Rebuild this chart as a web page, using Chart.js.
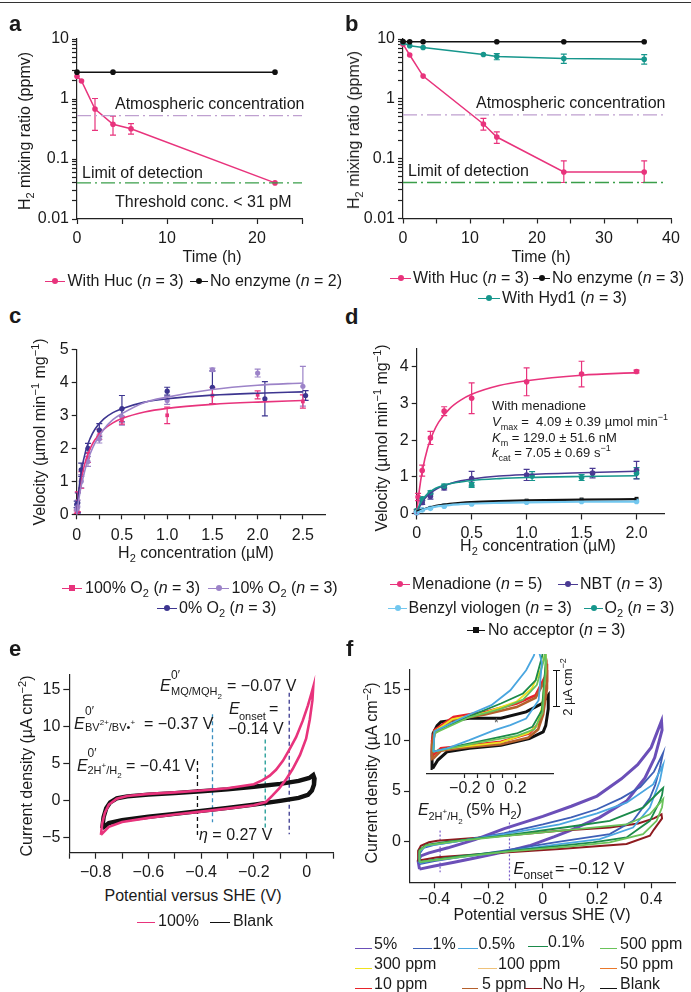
<!DOCTYPE html>
<html>
<head>
<meta charset="utf-8">
<script src="https://cdn.jsdelivr.net/npm/chart.js@4.4.1/dist/chart.umd.min.js"></script>
<style>
body { margin: 0; background: #fff; }
#page { position: relative; width: 691px; height: 992px; overflow: hidden; font-family: 'Liberation Sans', Arial, sans-serif; color: #1a1a1a; font-size: 16px; }
canvas { position: absolute; }
.t { position: absolute; white-space: nowrap; line-height: 16px; }
.L { position: absolute; font-weight: bold; font-size: 22px; line-height: 22px; }
sub { font-size: 11px; vertical-align: -4px; line-height: 0; }
sup { font-size: 11px; vertical-align: 6px; line-height: 0; }
.s11 sub, .s11 sup { font-size: 8px; }
.mk { position: absolute; height: 0; }
.mk i { position: absolute; left: 50%; width: 6px; height: 6px; margin-left: -3px; top: -3.6px; border-radius: 50%; }
.mk.sq i { border-radius: 0; }
</style>
</head>
<body>
<div id="page">
  <div style="position:absolute;left:0;top:2px;width:691px;height:1px;background:#333"></div>
  <canvas id="ca"></canvas>
  <canvas id="cb"></canvas>
  <canvas id="cc"></canvas>
  <canvas id="cd"></canvas>
  <canvas id="ce"></canvas>
  <canvas id="cf"></canvas>
  <canvas id="cfi"></canvas>
  <div class="L" style="left:9px;top:13px">a</div>
  <div class="L" style="left:345px;top:13px">b</div>
  <div class="L" style="left:9px;top:305px">c</div>
  <div class="L" style="left:345px;top:306px">d</div>
  <div class="L" style="left:9px;top:638px">e</div>
  <div class="L" style="left:346px;top:638px">f</div>
</div>
<script>
// ---- colours ----
const PINK = '#e8337c', TEAL = '#16968c', LAV = '#9c83c8', INDIGO = '#3d3590';
const NBTC = '#4a3a93', BVC = '#72c7ef', ATM = '#bfa0d0', LODC = '#3a9e4a';
const C5 = '#6b4fb8', C1 = '#3e5fb6', C05 = '#4aa6e0', C01 = '#1b8a4a', C500 = '#6ac35a';
const C300 = '#efe21e', C100 = '#efc27a', C50 = '#e9782b', C10 = '#e8232b', C5P = '#b5602c', CNO = '#8e1b1f';

// ---- panel a data ----
const aHucTime = [0, 0.5, 2, 4, 6, 22];
const aHuc = [2.4, 2.0, 0.68, 0.38, 0.32, 0.04];
const aHucLo = [null, null, 0.3, 0.25, 0.26, null];
const aHucHi = [null, null, 1.02, 0.52, 0.39, null];
const aNoTime = [0, 4, 22];
const aNo = [2.8, 2.8, 2.8];
const aAtmos = 0.53, aLod = 0.04, aSpan = [0, 25];

// ---- panel b data ----
const bHucTime = [0, 1, 3, 12, 14, 24, 36];
const bHuc = [8.2, 5.4, 2.4, 0.38, 0.23, 0.06, 0.06];
const bHucLo = [null, null, null, 0.3, 0.18, 0.04, 0.04];
const bHucHi = [null, null, null, 0.47, 0.28, 0.092, 0.092];
const bHydTime = [0, 1, 3, 12, 14, 24, 36];
const bHyd = [8.7, 7.7, 7.2, 5.5, 5.1, 4.7, 4.6];
const bHydLo = [null, null, null, null, 4.5, 3.9, 3.8];
const bHydHi = [null, null, null, null, 5.7, 5.6, 5.5];
const bNoTime = [0, 1, 3, 14, 24, 36];
const bNo = [9.1, 9.0, 9.0, 9.0, 9.0, 9.0];
const bAtmos = 0.54, bLod = 0.04, bSpan = [0, 39];

// ---- panel c data ----
const cConc100 = [0, 0.0125, 0.05, 0.125, 0.25, 0.5, 1.0, 1.5, 2.0, 2.5];
const cV100 = [0.08, 0.38, 1.04, 1.72, 2.42, 2.85, 3.0, 3.6, 3.62, 3.42];
const cE100 = [0.05, 0.3, 0.25, 0.15, 0.15, 0.12, 0.25, 0.25, 0.12, 0.2];
const cConc10 = [0, 0.0125, 0.05, 0.125, 0.25, 0.5, 1.0, 1.5, 2.0, 2.5];
const cV10 = [0.15, 0.23, 1.0, 1.6, 2.28, 2.95, 3.45, 4.38, 4.28, 3.88];
const cE10 = [0.05, 0.2, 0.2, 0.15, 0.12, 0.25, 0.12, 0.05, 0.12, 0.6];
const cConc0 = [0, 0.0125, 0.05, 0.125, 0.25, 0.5, 1.0, 1.5, 2.08, 2.53];
const cV0 = [0.3, 0.35, 1.35, 2.0, 2.55, 3.2, 3.73, 3.85, 3.5, 3.6];
const cE0 = [0.1, 0.3, 0.2, 0.15, 0.2, 0.4, 0.12, 0.5, 0.52, 0.15];
const cFitX = [0, 0.025, 0.05, 0.1, 0.15, 0.2, 0.3, 0.4, 0.5, 0.75, 1.0, 1.5, 2.0, 2.5];
const cFit100 = [0, 0.62, 1.06, 1.64, 2.0, 2.25, 2.57, 2.77, 2.9, 3.1, 3.21, 3.33, 3.4, 3.45];
const cFit10 = [0, 0.48, 0.86, 1.43, 1.84, 2.15, 2.58, 2.87, 3.05, 3.39, 3.55, 3.78, 3.91, 3.98];
const cFit0 = [0, 0.77, 1.28, 1.93, 2.31, 2.57, 2.89, 3.08, 3.2, 3.4, 3.5, 3.61, 3.67, 3.71];

// ---- panel d data ----
const dConcMen = [0, 0.0125, 0.05, 0.125, 0.25, 0.5, 1.0, 1.5, 2.0];
const dMen = [0.05, 0.45, 1.17, 2.06, 2.79, 3.14, 3.59, 3.8, 3.87];
const dMenE = [0.05, 0.1, 0.15, 0.18, 0.12, 0.42, 0.38, 0.35, 0.04];
const dConcNbt = [0, 0.05, 0.125, 0.25, 0.5, 1.0, 1.6, 2.0];
const dNbt = [0.02, 0.3, 0.47, 0.7, 0.95, 1.05, 1.1, 1.18];
const dNbtE = [0.02, 0.05, 0.08, 0.06, 0.2, 0.15, 0.13, 0.24];
const dConcO2 = [0, 0.05, 0.125, 0.25, 0.5, 1.05, 1.5, 2.0];
const dO2 = [0.08, 0.4, 0.57, 0.75, 0.78, 1.02, 0.98, 1.1];
const dO2E = [0.03, 0.05, 0.05, 0.05, 0.07, 0.12, 0.08, 0.15];
const dConcBv = [0, 0.05, 0.125, 0.25, 0.5, 1.0, 1.5, 2.0];
const dBv = [0.03, 0.1, 0.14, 0.2, 0.26, 0.31, 0.33, 0.33];
const dConcNo = [0, 0.05, 0.125, 0.25, 0.5, 1.0, 1.5, 2.0];
const dNo = [0.05, 0.1, 0.15, 0.21, 0.28, 0.35, 0.38, 0.4];
const dFitX = [0, 0.025, 0.05, 0.1, 0.15, 0.2, 0.3, 0.4, 0.5, 0.75, 1.0, 1.5, 2.0];
const dFitMen = [0, 0.66, 1.14, 1.79, 2.2, 2.49, 2.86, 3.09, 3.25, 3.49, 3.62, 3.77, 3.84];
const dFitNbt = [0, 0.17, 0.31, 0.49, 0.61, 0.7, 0.81, 0.89, 0.94, 1.02, 1.06, 1.11, 1.15];
const dFitO2 = [0.04, 0.22, 0.36, 0.54, 0.65, 0.72, 0.81, 0.86, 0.9, 0.95, 0.98, 1.01, 1.03];
const dFitBv = [0.02, 0.05, 0.09, 0.14, 0.175, 0.2, 0.23, 0.255, 0.27, 0.29, 0.305, 0.32, 0.325];
const dFitNo = [0.05, 0.08, 0.1, 0.15, 0.19, 0.22, 0.26, 0.29, 0.31, 0.34, 0.36, 0.38, 0.39];

// ---- panel e data (potential V, current µA cm-2) ----
const eBlank = [[-0.775,-3.7],[-0.77,-2.2],[-0.76,-1.0],[-0.745,-0.2],[-0.72,0.35],[-0.68,0.6],[-0.6,0.85],[-0.5,1.05],[-0.4,1.3],[-0.3,1.55],[-0.2,1.9],[-0.1,2.3],[-0.03,2.7],[0.01,3.1],[0.025,3.5],[0.03,3.0],[0.028,2.2],[0.02,1.4],[0.005,0.8],[-0.03,0.4],[-0.1,0.0],[-0.2,-0.5],[-0.3,-0.95],[-0.4,-1.35],[-0.5,-1.75],[-0.6,-2.15],[-0.7,-2.6],[-0.75,-3.0],[-0.775,-3.7]];
const e100 = [[-0.78,-4.6],[-0.775,-3.0],[-0.765,-1.6],[-0.75,-0.5],[-0.72,0.3],[-0.68,0.65],[-0.6,0.95],[-0.5,1.15],[-0.4,1.4],[-0.3,1.7],[-0.2,2.25],[-0.167,2.8],[-0.14,3.4],[-0.116,4.2],[-0.09,5.4],[-0.066,6.9],[-0.04,8.6],[-0.015,10.8],[0.005,12.9],[0.018,14.5],[0.025,15.4],[0.022,13.6],[0.012,11.0],[-0.002,8.4],[-0.025,6.2],[-0.053,4.3],[-0.08,2.8],[-0.104,1.7],[-0.13,0.7],[-0.154,-0.15],[-0.2,-0.6],[-0.3,-1.05],[-0.4,-1.45],[-0.5,-1.85],[-0.6,-2.3],[-0.7,-2.85],[-0.75,-3.5],[-0.78,-4.6]];
const eMarkX = [-0.414, -0.357, -0.157, -0.066];
const eMarkY = [[5.4, -4.7], [11.7, -2.9], [8.3, -3.6], [14.6, -4.5]];
const eMarkC = ['#111', '#3b8fc0', '#1c9a94', '#3b3a8f'];

// ---- panel f data ----
const f5 = [[-0.455,-2.7],[-0.46,-1.9],[-0.45,-1.4],[-0.42,-1.1],[-0.35,-0.6],[-0.25,0.2],[-0.142,1.3],[0,2.5],[0.105,3.5],[0.2,4.5],[0.29,6.2],[0.35,7.6],[0.4,9.3],[0.438,11.9],[0.44,11.0],[0.429,9.9],[0.413,8.3],[0.377,6.3],[0.309,4.0],[0.21,2.4],[0.1,1.1],[0.043,0.5],[-0.05,-0.4],[-0.142,-1.0],[-0.25,-1.6],[-0.327,-2.03],[-0.4,-2.4],[-0.455,-2.7]];
const f1 = [[-0.455,-2.2],[-0.455,-1.2],[-0.44,-0.6],[-0.4,-0.3],[-0.3,0.1],[-0.142,0.85],[0,1.7],[0.105,2.4],[0.2,3.2],[0.29,4.3],[0.36,5.4],[0.41,6.9],[0.444,8.75],[0.432,7.3],[0.415,5.6],[0.395,4.3],[0.333,2.06],[0.247,0.75],[0.062,0.0],[-0.15,-0.9],[-0.3,-1.5],[-0.4,-1.9],[-0.455,-2.2]];
const f05 = [[-0.455,-2.1],[-0.455,-1.0],[-0.43,-0.4],[-0.35,-0.1],[-0.142,0.75],[0.062,1.7],[0.2,2.8],[0.309,3.85],[0.407,5.65],[0.444,7.6],[0.432,6.0],[0.395,3.36],[0.333,1.4],[0.21,0.26],[0.062,-0.23],[-0.2,-1.2],[-0.4,-1.8],[-0.455,-2.1]];
const f01 = [[-0.455,-2.0],[-0.455,-0.8],[-0.43,-0.3],[-0.35,0.0],[-0.142,0.6],[0.105,1.5],[0.247,2.06],[0.37,3.36],[0.432,5.0],[0.444,5.3],[0.44,4.6],[0.432,4.0],[0.395,2.06],[0.309,0.42],[0.186,-0.07],[0.062,-0.4],[-0.142,-0.95],[-0.3,-1.4],[-0.455,-2.0]];
const f500 = [[-0.455,-2.0],[-0.455,-0.9],[-0.43,-0.35],[-0.3,0.1],[-0.142,0.55],[0.105,1.2],[0.309,1.7],[0.395,2.7],[0.438,4.0],[0.444,4.2],[0.44,3.4],[0.42,2.06],[0.37,0.75],[0.247,-0.07],[0.105,-0.45],[-0.142,-1.0],[-0.3,-1.5],[-0.455,-2.0]];
const fNoH2 = [[-0.457,-1.86],[-0.46,-0.9],[-0.45,-0.4],[-0.42,-0.05],[-0.389,0.1],[-0.142,0.59],[0.062,1.08],[0.247,1.4],[0.352,1.8],[0.41,2.3],[0.438,2.7],[0.44,2.3],[0.432,2.0],[0.41,1.2],[0.395,0.59],[0.309,-0.23],[0.062,-0.72],[-0.142,-1.05],[-0.389,-1.54],[-0.457,-1.86]];
const fMarkX = [-0.379, -0.123];
const fMarkY = [[1.1, -3.0], [1.9, -3.8]];

// inset (offset current, µA cm-2)
const iBlank = [[-0.455,0.3],[-0.46,1.2],[-0.452,2.18],[-0.42,2.6],[-0.39,2.8],[-0.165,3.0],[0.085,3.0],[0.285,3.34],[0.41,3.79],[0.46,4.24],[0.46,3.5],[0.44,2.6],[0.42,2.27],[0.31,1.91],[0.085,1.55],[-0.165,1.38],[-0.34,1.2],[-0.414,0.75],[-0.455,0.3]];
const i10 = [[-0.455,1.0],[-0.46,1.8],[-0.44,2.36],[-0.29,3.07],[-0.04,3.34],[0.21,3.79],[0.36,4.24],[0.434,5.22],[0.447,5.93],[0.45,5.0],[0.42,3.6],[0.384,2.72],[0.31,2.18],[0.085,1.73],[-0.165,1.55],[-0.39,1.38],[-0.455,1.0]];
const i5p = [[-0.455,0.8],[-0.46,1.6],[-0.44,2.2],[-0.3,2.9],[-0.04,3.2],[0.21,3.6],[0.36,4.1],[0.43,5.0],[0.447,5.6],[0.45,4.6],[0.42,3.2],[0.38,2.4],[0.3,1.95],[0.085,1.6],[-0.165,1.45],[-0.39,1.25],[-0.455,0.8]];
const i300 = [[-0.45,1.2],[-0.44,2.3],[-0.3,2.95],[-0.04,3.3],[0.21,3.9],[0.33,4.6],[0.4,5.6],[0.44,6.6],[0.44,5.6],[0.41,3.6],[0.37,2.6],[0.3,2.2],[0.085,1.7],[-0.3,1.4],[-0.45,1.2]];
const i01 = [[-0.45,1.2],[-0.44,2.3],[-0.165,3.1],[0.085,3.79],[0.26,4.33],[0.36,5.04],[0.41,6.29],[0.43,7.0],[0.44,6.0],[0.41,3.43],[0.335,2.54],[0.21,2.18],[-0.04,1.82],[-0.3,1.45],[-0.45,1.2]];
const i500 = [[-0.45,1.2],[-0.44,2.2],[-0.165,3.05],[0.085,3.5],[0.26,4.0],[0.37,4.8],[0.42,6.0],[0.44,6.6],[0.44,5.5],[0.415,3.3],[0.35,2.4],[0.21,2.05],[-0.04,1.75],[-0.3,1.4],[-0.45,1.2]];
const i05 = [[-0.45,1.2],[-0.44,2.3],[-0.165,3.2],[0.01,3.7],[0.16,4.5],[0.285,5.58],[0.347,6.38],[0.37,7.0],[0.41,6.0],[0.384,3.97],[0.285,2.98],[0.16,2.63],[0.035,2.36],[-0.165,1.82],[-0.34,1.38],[-0.45,1.2]];

// ---- ticks ----
const logTicks = [];
[0.01, 0.1, 1].forEach(d => { for (let k = 1; k < 10; k++) logTicks.push(+(d * k).toPrecision(3)); });
logTicks.push(10);
const logLab = [0.01, 0.1, 1, 10], logTxt = ['0.01', '0.1', '1', '10'];

Chart.defaults.font.family = "'Liberation Sans', Arial, sans-serif";
Chart.defaults.font.size = 16;
Chart.defaults.color = '#1a1a1a';

const pts = (xs, ys) => xs.map((x, i) => ({x, y: ys[i]}));
const pairs = arr => arr.map(p => ({x: p[0], y: p[1]}));

// error bars drawn from the y scale
const errorBars = {
  id: 'errorBars',
  beforeDatasetsDraw(chart) {
    const {ctx, scales: {x, y}} = chart;
    chart.data.datasets.forEach(ds => {
      if (!ds.errLo) return;
      ctx.save();
      ctx.strokeStyle = ds.borderColor;
      ctx.lineWidth = 1.2;
      ds.data.forEach((p, i) => {
        const lo = ds.errLo[i], hi = ds.errHi[i];
        if (lo == null) return;
        const px = x.getPixelForValue(p.x), y1 = y.getPixelForValue(lo), y2 = y.getPixelForValue(hi);
        ctx.beginPath();
        ctx.moveTo(px, y1); ctx.lineTo(px, y2);
        ctx.moveTo(px - 3, y1); ctx.lineTo(px + 3, y1);
        ctx.moveTo(px - 3, y2); ctx.lineTo(px + 3, y2);
        ctx.stroke();
      });
      ctx.restore();
    });
  }
};

function axis(o) {
  return {
    type: o.type || 'linear', min: o.min, max: o.max, display: o.display !== false,
    border: {color: '#222', width: 1.2},
    grid: {drawOnChartArea: false, tickLength: o.tl || 5, tickColor: '#222', tickWidth: 1.2},
    ticks: {autoSkip: false, maxRotation: 0, padding: o.pad == null ? 3 : o.pad, color: '#1a1a1a',
      callback: v => { const k = o.lab.findIndex(l => Math.abs(l - v) < 1e-9); return k < 0 ? '' : o.txt[k]; }},
    afterBuildTicks: s => { s.ticks = o.ticks.map(v => ({value: v})); },
    afterFit: s => { if (o.size != null) { if (s.isHorizontal()) s.height = o.size; else s.width = o.size; } }
  };
}

// box = [left, top, width, height] of canvas; area = [left, top, right, bottom] of plot area
function makeChart(id, box, area, datasets, xa, ya) {
  const cv = document.getElementById(id);
  cv.width = box[2]; cv.height = box[3];
  cv.style.left = box[0] + 'px'; cv.style.top = box[1] + 'px';
  xa.size = box[1] + box[3] - area[3];
  ya.size = area[0] - box[0];
  return new Chart(cv, {
    type: 'scatter',
    data: {datasets},
    options: {
      responsive: false, animation: false, devicePixelRatio: 1,
      layout: {padding: {left: ya.display === false ? area[0] - box[0] : 0, top: area[1] - box[1], right: box[0] + box[2] - area[2], bottom: 0}},
      plugins: {legend: {display: false}, tooltip: {enabled: false}},
      scales: {x: axis(xa), y: axis(ya)}
    },
    plugins: [errorBars]
  });
}

function series(data, color, extra) {
  return Object.assign({data, borderColor: color, backgroundColor: color, showLine: true, borderWidth: 1.5,
    pointRadius: 2.8, pointBorderWidth: 0, clip: false}, extra);
}
function curve(data, color, w, extra) {
  return Object.assign({data, borderColor: color, backgroundColor: color, showLine: true, borderWidth: w,
    pointRadius: 0, clip: false}, extra);
}
function hline(span, v, color) {
  return curve([{x: span[0], y: v}, {x: span[1], y: v}], color, 1.3, {borderDash: [14, 4, 2, 4]});
}
function withErr(ds, ys, err) { ds.errLo = ys.map((v, i) => v - err[i]); ds.errHi = ys.map((v, i) => v + err[i]); return ds; }

// ---- a ----
makeChart('ca', [0, 20, 345, 235], [77, 39, 302, 219], [
  hline(aSpan, aAtmos, ATM), hline(aSpan, aLod, LODC),
  series(pts(aNoTime, aNo), '#111'),
  Object.assign(series(pts(aHucTime, aHuc), PINK), {errLo: aHucLo, errHi: aHucHi})
], {min: 0, max: 25, ticks: [0, 5, 10, 15, 20, 25], lab: [0, 10, 20], txt: ['0', '10', '20'], pad: 5},
   {type: 'logarithmic', min: 0.01, max: 10, ticks: logTicks, lab: logLab, txt: logTxt});

// ---- b ----
makeChart('cb', [345, 20, 346, 235], [403, 39, 671, 218.5], [
  hline(bSpan, bAtmos, ATM), hline(bSpan, bLod, LODC),
  series(pts(bNoTime, bNo), '#111'),
  Object.assign(series(pts(bHydTime, bHyd), TEAL), {errLo: bHydLo, errHi: bHydHi}),
  Object.assign(series(pts(bHucTime, bHuc), PINK), {errLo: bHucLo, errHi: bHucHi})
], {min: 0, max: 40, ticks: [0, 5, 10, 15, 20, 25, 30, 35, 40], lab: [0, 10, 20, 30, 40], txt: ['0', '10', '20', '30', '40'], pad: 5},
   {type: 'logarithmic', min: 0.01, max: 10, ticks: logTicks, lab: logLab, txt: logTxt});

// ---- c ----
const cmark = {showLine: false, pointRadius: 2.6};
makeChart('cc', [0, 330, 345, 215], [76.7, 349.3, 325.5, 514.3], [
  curve(pts(cFitX, cFit10), LAV, 1.6, {tension: 0.4, cubicInterpolationMode: 'monotone'}),
  curve(pts(cFitX, cFit0), INDIGO, 1.6, {tension: 0.4, cubicInterpolationMode: 'monotone'}),
  curve(pts(cFitX, cFit100), PINK, 1.6, {tension: 0.4, cubicInterpolationMode: 'monotone'}),
  withErr(series(pts(cConc10, cV10), LAV, cmark), cV10, cE10),
  withErr(series(pts(cConc0, cV0), INDIGO, cmark), cV0, cE0),
  withErr(series(pts(cConc100, cV100), PINK, Object.assign({pointStyle: 'rect'}, cmark)), cV100, cE100)
], {min: 0, max: 2.75, ticks: [0, 0.25, 0.5, 0.75, 1, 1.25, 1.5, 1.75, 2, 2.25, 2.5], lab: [0, 0.5, 1, 1.5, 2, 2.5], txt: ['0', '0.5', '1.0', '1.5', '2.0', '2.5'], pad: 7},
   {min: 0, max: 5, ticks: [0, 1, 2, 3, 4, 5], lab: [0, 1, 2, 3, 4, 5], txt: ['0', '1', '2', '3', '4', '5']});

// ---- d ----
const dmark = {showLine: false, pointRadius: 2.8};
const fitOpt = {tension: 0.4, cubicInterpolationMode: 'monotone'};
makeChart('cd', [345, 330, 346, 215], [416.7, 348.4, 664, 513.5], [
  curve(pts(dFitX, dFitBv), BVC, 2.2, fitOpt),
  curve(pts(dFitX, dFitNo), '#111', 2.2, fitOpt),
  curve(pts(dFitX, dFitO2), TEAL, 1.6, fitOpt),
  curve(pts(dFitX, dFitNbt), NBTC, 1.6, fitOpt),
  curve(pts(dFitX, dFitMen), PINK, 1.6, fitOpt),
  series(pts(dConcBv, dBv), BVC, dmark),
  series(pts(dConcNo, dNo), '#111', Object.assign({pointStyle: 'rect'}, dmark)),
  withErr(series(pts(dConcO2, dO2), TEAL, dmark), dO2, dO2E),
  withErr(series(pts(dConcNbt, dNbt), NBTC, dmark), dNbt, dNbtE),
  withErr(series(pts(dConcMen, dMen), PINK, dmark), dMen, dMenE)
], {min: 0, max: 2.25, ticks: [0, 0.5, 1, 1.5, 2], lab: [0, 0.5, 1, 1.5, 2], txt: ['0', '0.5', '1.0', '1.5', '2.0'], pad: 4, tl: 6},
   {min: 0, max: 4.5, ticks: [0, 1, 2, 3, 4], lab: [0, 1, 2, 3, 4], txt: ['0', '1', '2', '3', '4']});

// ---- e ----
const eSets = [curve(pairs(e100), PINK, 2.6), curve(pairs(eBlank), '#111', 4.4)];
eMarkX.forEach((x, i) => eSets.push(curve([{x, y: eMarkY[i][0]}, {x, y: eMarkY[i][1]}], eMarkC[i], 1.3, {borderDash: [4, 3]})));
makeChart('ce', [0, 655, 345, 225], [69.3, 675, 333, 852.7], eSets,
  {min: -0.9, max: 0.1, ticks: [-0.9, -0.8, -0.7, -0.6, -0.5, -0.4, -0.3, -0.2, -0.1, 0, 0.1], lab: [-0.8, -0.6, -0.4, -0.2, 0], txt: ['\u22120.8', '\u22120.6', '\u22120.4', '\u22120.2', '0'], pad: 4, tl: 6},
  {min: -7, max: 17, ticks: [-5, 0, 5, 10, 15], lab: [-5, 0, 5, 10, 15], txt: ['\u22125', '0', '5', '10', '15'], tl: 6});

// ---- f ----
const fSets = [
  curve(pairs(f500), C500, 1.8), curve(pairs(f01), C01, 1.8), curve(pairs(f05), C05, 1.8),
  curve(pairs(f1), C1, 1.8), curve(pairs(fNoH2), CNO, 2), curve(pairs(f5), C5, 3)
];
fMarkX.forEach((x, i) => fSets.push(curve([{x, y: fMarkY[i][0]}, {x, y: fMarkY[i][1]}], '#7a5cc8', 1.2, {borderDash: [2, 2]})));
makeChart('cf', [345, 650, 346, 265], [410, 669.3, 675.6, 882.3], fSets,
  {min: -0.49, max: 0.49, ticks: [-0.4, -0.3, -0.2, -0.1, 0, 0.1, 0.2, 0.3, 0.4], lab: [-0.4, -0.2, 0, 0.2, 0.4], txt: ['\u22120.4', '\u22120.2', '0', '0.2', '0.4'], pad: 2, tl: 6},
  {min: -4, max: 17, ticks: [0, 5, 10, 15], lab: [0, 5, 10, 15], txt: ['0', '5', '10', '15'], tl: 6});

// inset
const iclip = {clip: 1};
makeChart('cfi', [415, 650, 150, 150], [421, 655, 553.3, 774], [
  curve(pairs(i05), C05, 1.8, iclip), curve(pairs(i500), C500, 1.8, iclip), curve(pairs(i01), C01, 1.8, iclip),
  curve(pairs(i300), C300, 1.8, iclip), curve(pairs(i5p), C5P, 2.6, iclip), curve(pairs(i10), C10, 2.6, iclip),
  curve(pairs(iBlank), '#111', 3, iclip)
], {min: -0.5, max: 0.5, ticks: [-0.2, -0.1, 0, 0.1, 0.2], lab: [-0.2, 0, 0.2], txt: ['\u22120.2', '0', '0.2'], pad: 1, tl: 4},
   {display: false, min: 0, max: 6.4, ticks: [0], lab: [], txt: []});

// ---- text ----
const page = document.getElementById('page');
function txt(html, x, cy, style) {
  const d = document.createElement('div');
  d.className = 't';
  d.innerHTML = html;
  d.style.left = x + 'px';
  d.style.top = (cy - 8) + 'px';
  if (style) d.style.cssText += style;
  page.appendChild(d);
  return d;
}
function ctr(html, x, cy) { txt(html, x, cy, 'transform:translateX(-50%)'); }
function vtxt(html, x, cy, style) { txt(html, x, cy + 8, 'top:' + cy + 'px;transform:translate(-50%,-50%) rotate(-90deg);' + (style || '')); }
function small(html, x, cy, size) { const d = txt(html, x, cy, 'font-size:' + size + 'px;line-height:' + size + 'px;top:' + (cy - size / 2) + 'px'); d.classList.add('s11'); }
function leg(x1, x2, tx, cy, color, kind, html, dy) {
  const m = document.createElement('div');
  m.className = 'mk ' + kind;
  m.style.cssText = 'left:' + x1 + 'px;width:' + (x2 - x1) + 'px;top:' + (cy + (dy || 0)) + 'px;border-top:1.5px solid ' + color;
  if (kind !== 'ln') m.innerHTML = '<i style="background:' + color + '"></i>';
  page.appendChild(m);
  txt(html, tx, cy);
}

// a
vtxt('H<sub>2</sub> mixing ratio (ppmv)', 25, 131);
txt('Atmospheric concentration', 115, 104);
txt('Limit of detection', 82, 173);
txt('Threshold conc. &lt; 31 pM', 115, 202);
ctr('Time (h)', 212, 257);
leg(45, 65, 67.5, 281, PINK, 'dot', 'With Huc (<i>n</i> = 3)');
leg(190, 208, 210, 281, '#111', 'dot', 'No enzyme (<i>n</i> = 2)');
// b
vtxt('H<sub>2</sub> mixing ratio (ppmv)', 354, 130);
txt('Atmospheric concentration', 476, 103);
txt('Limit of detection', 408, 171);
ctr('Time (h)', 541, 257);
leg(390, 411, 413, 278, PINK, 'dot', 'With Huc (<i>n</i> = 3)');
leg(533, 550, 552, 278, '#111', 'dot', 'No enzyme (<i>n</i> = 3)');
leg(478, 500, 502, 298, TEAL, 'dot', 'With Hyd1 (<i>n</i> = 3)');
// c
vtxt('Velocity (µmol min<sup>\u22121</sup> mg<sup>\u22121</sup>)', 40, 432);
ctr('H<sub>2</sub> concentration (µM)', 196, 553);
leg(62, 82, 85, 588, PINK, 'sq', '100% O<sub>2</sub> (<i>n</i> = 3)');
leg(208, 229, 231.5, 588, LAV, 'dot', '10% O<sub>2</sub> (<i>n</i> = 3)');
leg(157, 177, 179, 608, INDIGO, 'dot', '0% O<sub>2</sub> (<i>n</i> = 3)');
// d
vtxt('Velocity (µmol min<sup>\u22121</sup> mg<sup>\u22121</sup>)', 382, 438);
ctr('H<sub>2</sub> concentration (µM)', 538, 546);
const d13 = 'font-size:13px;';
txt('With menadione', 492, 406, d13);
txt('<i>V</i><sub style="font-size:9px">max</sub> = &nbsp;4.09 ± 0.39 µmol min<sup style="font-size:9px">\u22121</sup>', 492, 422, d13);
txt('<i>K</i><sub style="font-size:9px">m</sub> = 129.0 ± 51.6 nM', 492, 437.5, d13);
txt('<i>k</i><sub style="font-size:9px">cat</sub> = 7.05 ± 0.69 s<sup style="font-size:9px">\u22121</sup>', 492, 453, d13);
leg(390, 410, 412, 584, PINK, 'dot', 'Menadione (<i>n</i> = 5)');
leg(558, 578, 580, 584, NBTC, 'dot', 'NBT (<i>n</i> = 3)');
leg(388, 407, 408.5, 608, BVC, 'dot', 'Benzyl viologen (<i>n</i> = 3)');
leg(584, 603, 604.5, 608, TEAL, 'dot', 'O<sub>2</sub> (<i>n</i> = 3)');
leg(467, 485, 488, 630, '#111', 'sq', 'No acceptor (<i>n</i> = 3)');
// e
vtxt('Current density (µA cm<sup>\u22122</sup>)', 27, 766);
ctr('Potential versus SHE (V)', 193, 896);
txt('<i>E</i>', 160, 685.5); small('0\u2032', 171, 674.5, 12); small('MQ/MQH<sub>2</sub>', 171, 691, 11); txt('= \u22120.07 V', 227, 685.5);
txt('<i>E</i>', 74, 723.5); small('0\u2032', 85, 711, 12); small('BV<sup>2+</sup>/BV\u2022<sup>+</sup>', 85, 727, 11); txt('= \u22120.37 V', 144, 723.5);
txt('<i>E</i>', 229, 709); small('onset', 239, 716.5, 11); txt('=', 269, 709); txt('\u22120.14 V', 228, 728.5);
txt('<i>E</i>', 77, 765.5); small('0\u2032', 87.5, 752.5, 12); small('2H<sup>+</sup>/H<sub>2</sub>', 87.5, 770, 11); txt('= \u22120.41 V', 126, 765.5);
txt('<i>η</i> = 0.27 V', 199, 834.5);
leg(137, 155, 158, 921, PINK, 'ln', '100%', 1);
leg(210, 230, 233, 921, '#111', 'ln', 'Blank', 1);
// f
vtxt('Current density (µA cm<sup>\u22122</sup>)', 372, 773);
ctr('Potential versus SHE (V)', 542, 915);
txt('<i>E</i>', 418, 810); small('2H<sup>+</sup>/H<sub>2</sub>', 428.5, 816.5, 11); txt('(5% H<sub>2</sub>)', 466, 810);
txt('<i>E</i>', 513.5, 868.5); small('onset', 523.5, 874.5, 12); txt('= \u22120.12 V', 555, 868.5);
txt('*', 494, 723, 'font-size:12px;color:#555');
const bar = document.createElement('div');
bar.style.cssText = 'position:absolute;left:556px;top:670px;width:1.2px;height:37px;background:#111';
page.appendChild(bar);
['670px', '706px'].forEach(t => { const c = document.createElement('div'); c.style.cssText = 'position:absolute;left:553px;top:' + t + ';width:7px;height:1.2px;background:#111'; page.appendChild(c); });
vtxt('2 µA cm<sup style="font-size:9px">\u22122</sup>', 568, 687, 'font-size:13px;');
leg(355, 372, 374, 944, C5, 'ln', '5%', 4);
leg(413, 432, 432.5, 944, C1, 'ln', '1%', 4);
leg(458, 477.5, 478.5, 944, C05, 'ln', '0.5%', 4);
leg(528, 547.5, 548, 941.5, C01, 'ln', '0.1%', 4);
leg(600, 617, 620, 944, C500, 'ln', '500 ppm', 4);
leg(355, 372, 374, 963.5, C300, 'ln', '300 ppm', 4);
leg(478, 497, 498, 963.5, C100, 'ln', '100 ppm', 4);
leg(600, 617, 620, 963.5, C50, 'ln', '50 ppm', 4);
leg(355, 372, 374, 984, C10, 'ln', '10 ppm', 4);
leg(462, 478, 482, 984, C5P, 'ln', '5 ppm', 4);
leg(525, 542, 542.5, 984, CNO, 'ln', 'No H<sub>2</sub>', 4);
leg(600, 617, 620, 984, '#111', 'ln', 'Blank', 4);
</script>
</body>
</html>
